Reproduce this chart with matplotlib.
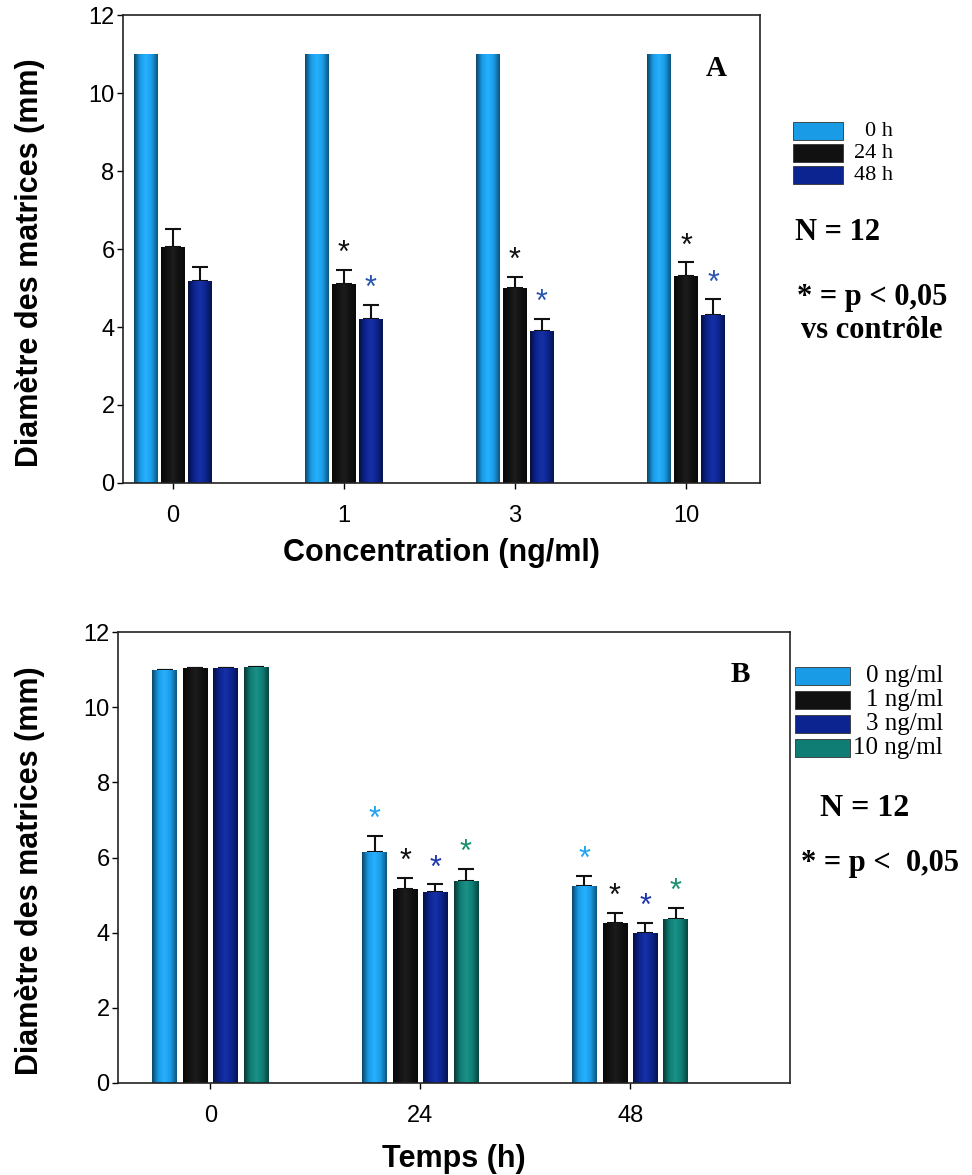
import numpy as np
import matplotlib
matplotlib.use('Agg')
import matplotlib.pyplot as plt
from matplotlib.colors import LinearSegmentedColormap, to_rgb
from matplotlib.patches import Rectangle

# données panneau A (diamètre vs concentration)
conc_labels = ['0', '1', '3', '10']
a_0h = [11.0, 11.0, 11.0, 11.0]
a_24h = [6.06, 5.11, 4.99, 5.30]
a_24h_err = [0.45, 0.36, 0.29, 0.36]
a_48h = [5.17, 4.20, 3.90, 4.30]
a_48h_err = [0.36, 0.37, 0.31, 0.41]
a_star_24h = [False, True, True, True]
a_star_48h = [False, True, True, True]

# données panneau B (diamètre vs temps)
time_labels = ['0', '24', '48']
b_0 = [11.0, 6.15, 5.24]
b_0_err = [0.0, 0.42, 0.28]
b_1 = [11.05, 5.17, 4.26]
b_1_err = [0.0, 0.29, 0.27]
b_3 = [11.05, 5.08, 3.99]
b_3_err = [0.0, 0.21, 0.28]
b_10 = [11.08, 5.38, 4.37]
b_10_err = [0.0, 0.32, 0.29]
b_star = [False, True, True]

c_light = '#1a9be6'
c_black = '#111111'
c_dark = '#0c2490'
c_teal = '#0f7d74'

plt.rcParams['font.family'] = ['Liberation Sans', 'DejaVu Sans']
serif = ['Liberation Serif', 'DejaVu Serif']


def shade(ax, bars, color):
    # effet cylindre des barres
    rgb = np.array(to_rgb(color))
    edge = rgb * 0.45
    light = np.clip(rgb * 1.08 + 0.04, 0, 1)
    cmap = LinearSegmentedColormap.from_list('c', [edge, rgb, light, rgb, edge * 1.2])
    grad = np.linspace(0, 1, 64).reshape(1, -1)
    for b in bars:
        x0, y0 = b.get_x(), b.get_y()
        w, h = b.get_width(), b.get_height()
        im = ax.imshow(grad, cmap=cmap, extent=(x0, x0 + w, y0, y0 + h),
                       aspect='auto', zorder=2, interpolation='bicubic')
        im.set_clip_path(b)


def style(ax):
    ax.set_ylim(0, 12)
    ax.set_yticks(range(0, 13, 2))
    ax.tick_params(axis='both', direction='out', length=4, width=1, labelsize=17)
    ax.tick_params(axis='x', pad=12)
    ax.tick_params(axis='y', pad=2)
    for s in ax.spines.values():
        s.set_linewidth(1.2)
        s.set_color('#222222')


fig = plt.figure(figsize=(9.72, 11.75), dpi=100)

# ---------- Panneau A ----------
axA = fig.add_axes([0.1265, 0.589, 0.655, 0.398])
x = np.arange(len(conc_labels))
w = 0.14
d = 0.158
ek = dict(ecolor='#111111', elinewidth=1.5, capsize=6, capthick=1.5)
b0 = axA.bar(x - d, a_0h, w, color=c_light, zorder=1)
b1 = axA.bar(x, a_24h, w, color=c_black, zorder=1,
             yerr=[np.zeros(4), a_24h_err], error_kw=ek)
b2 = axA.bar(x + d, a_48h, w, color=c_dark, zorder=1,
             yerr=[np.zeros(4), a_48h_err], error_kw=ek)
shade(axA, b0, c_light)
shade(axA, b1, c_black)
shade(axA, b2, c_dark)
for i in range(len(x)):
    if a_star_24h[i]:
        axA.text(x[i], a_24h[i] + a_24h_err[i] + 0.02, '*', ha='center', va='bottom',
                 fontsize=22, color='#111111')
    if a_star_48h[i]:
        axA.text(x[i] + d, a_48h[i] + a_48h_err[i] + 0.02, '*', ha='center', va='bottom',
                 fontsize=22, color='#2a55b0')
axA.set_xlim(-0.29, 3.43)
axA.set_xticks(x)
axA.set_xticklabels(conc_labels)
style(axA)
axA.set_xlabel('Concentration (ng/ml)', fontsize=22, fontweight='bold', labelpad=8)
axA.set_ylabel('Diamètre des matrices (mm)', fontsize=22, fontweight='bold')
axA.yaxis.set_label_coords(-0.122, 0.47)
axA.text(0.932, 0.887, 'A', transform=axA.transAxes, fontsize=21, fontweight='bold',
         family=serif, ha='center', va='center')

# légende A
legA = [('0 h', c_light), ('24 h', c_black), ('48 h', c_dark)]
for k, (lab, col) in enumerate(legA):
    yc = 1175 - (131 + k * 22)
    fig.patches.append(Rectangle((793 / 972, (yc - 9) / 1175), 50 / 972, 18 / 1175,
                                 transform=fig.transFigure, facecolor=col,
                                 edgecolor='#333333', lw=0.6))
    fig.text(893 / 972, yc / 1175, lab, ha='right', va='center', fontsize=16, family=serif)
fig.text(795 / 972, 1 - 232 / 1175, 'N = 12', fontsize=22, fontweight='bold', family=serif,
         va='center')
fig.text(872 / 972, 1 - 297 / 1175, '* = p < 0,05', fontsize=22, fontweight='bold',
         family=serif, va='center', ha='center')
fig.text(872 / 972, 1 - 330 / 1175, 'vs contrôle', fontsize=22, fontweight='bold',
         family=serif, va='center', ha='center')

# ---------- Panneau B ----------
axB = fig.add_axes([0.1214, 0.0783, 0.691, 0.3838])
xb = np.arange(len(time_labels))
wb = 0.118
pb = 0.145
series = [(b_0, b_0_err, c_light, '#1fa3f2'), (b_1, b_1_err, c_black, '#111111'),
          (b_3, b_3_err, c_dark, '#1c35a8'), (b_10, b_10_err, c_teal, '#17906c')]
for j, (vals, errs, col, scol) in enumerate(series):
    off = (j - 1.5) * pb
    bars = axB.bar(xb + off, vals, wb, color=col, zorder=1,
                   yerr=[np.zeros(3), errs], error_kw=ek)
    shade(axB, bars, col)
    for i in range(len(xb)):
        if b_star[i]:
            axB.text(xb[i] + off, vals[i] + errs[i] + 0.02, '*', ha='center', va='bottom',
                     fontsize=22, color=scol)
axB.set_xlim(-0.44, 2.76)
axB.set_xticks(xb)
axB.set_xticklabels(time_labels)
style(axB)
axB.set_xlabel('Temps (h)', fontsize=22, fontweight='bold', labelpad=12)
axB.set_ylabel('Diamètre des matrices (mm)', fontsize=22, fontweight='bold')
axB.yaxis.set_label_coords(-0.109, 0.47)
axB.text(0.926, 0.905, 'B', transform=axB.transAxes, fontsize=21, fontweight='bold',
         family=serif, ha='center', va='center')

# légende B
legB = [('0 ng/ml', c_light), ('1 ng/ml', c_black), ('3 ng/ml', c_dark), ('10 ng/ml', c_teal)]
for k, (lab, col) in enumerate(legB):
    yc = 1175 - (676 + k * 24)
    fig.patches.append(Rectangle((795 / 972, (yc - 9) / 1175), 55 / 972, 18 / 1175,
                                 transform=fig.transFigure, facecolor=col,
                                 edgecolor='#333333', lw=0.6))
    fig.text(943 / 972, yc / 1175, lab, ha='right', va='center', fontsize=18, family=serif)
fig.text(820 / 972, 1 - 808 / 1175, 'N = 12', fontsize=23, fontweight='bold', family=serif,
         va='center')
fig.text(880 / 972, 1 - 863 / 1175, '* = p <  0,05', fontsize=22, fontweight='bold',
         family=serif, va='center', ha='center')

fig.savefig('out.png', dpi=100)
